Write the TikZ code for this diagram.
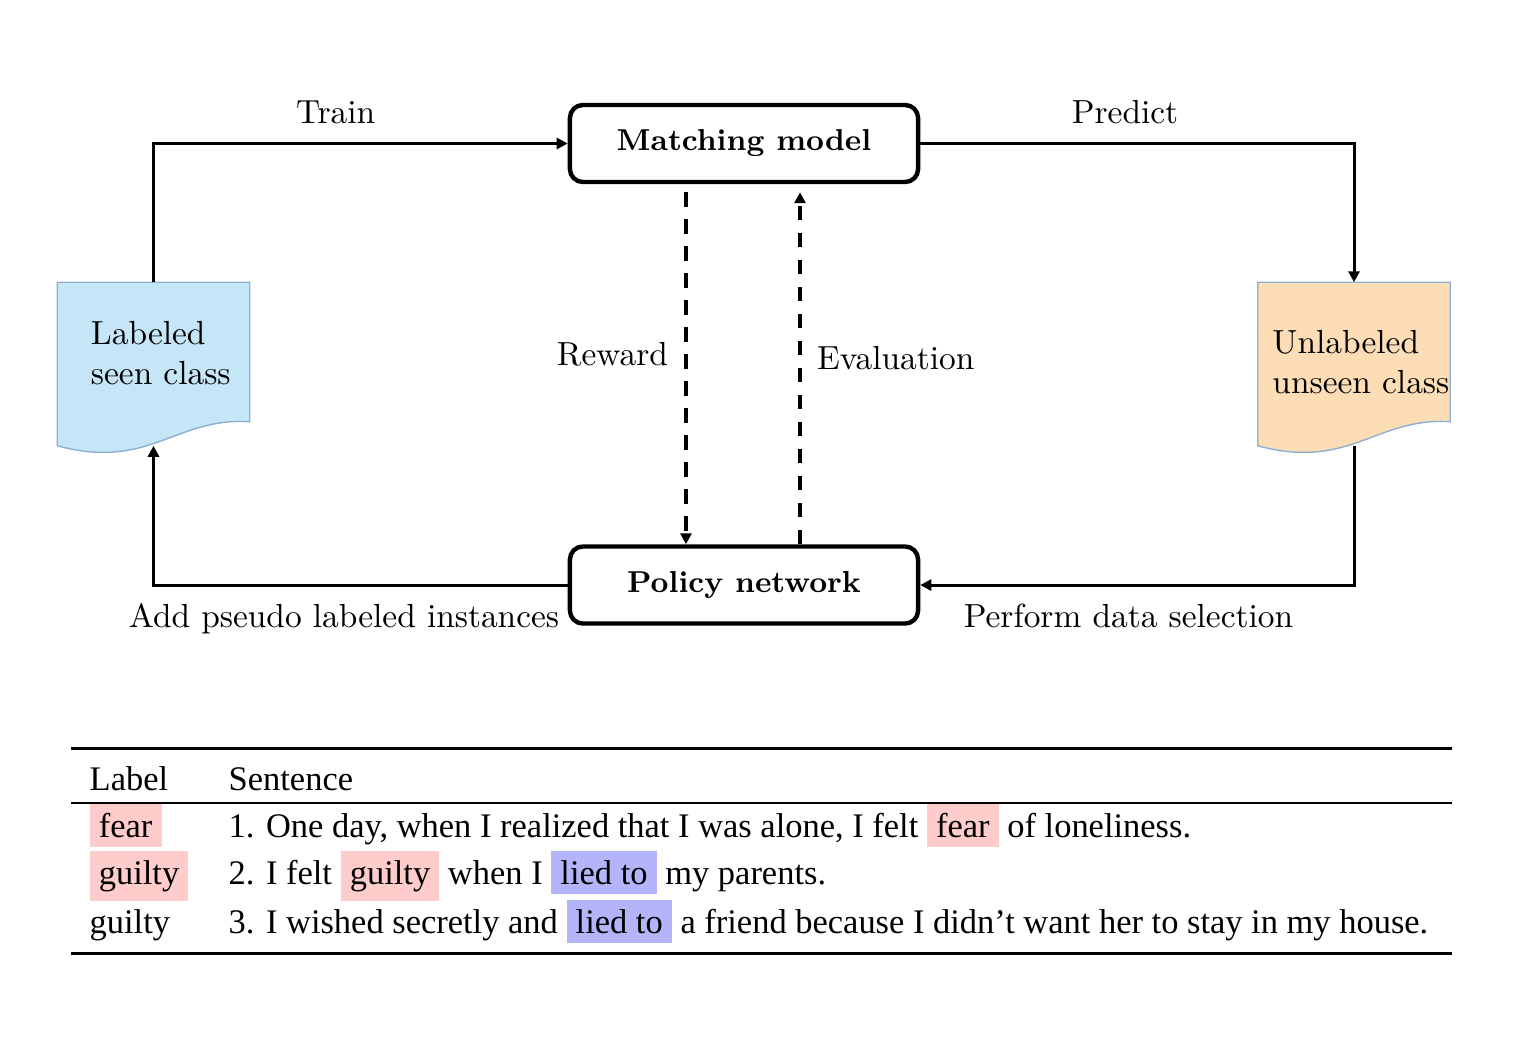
\documentclass[tikz,border=0pt]{standalone}
\usepackage{fontspec}
\newfontfamily\tabfont{Liberation Serif}
\usepackage{xcolor}
\usetikzlibrary{arrows.meta,positioning,calc}

\definecolor{seenblue}{HTML}{C5E6F6}
\definecolor{unseenpeach}{HTML}{FDDDB6}
\definecolor{docedge}{HTML}{8EAFCF}
\definecolor{hlpink}{HTML}{FFCCCC}
\definecolor{hlblue}{HTML}{B4B4FA}

\setlength{\fboxsep}{2.6pt}
\newcommand{\hlword}[2]{\colorbox{#1}{#2}}
\newcommand{\lblfont}{\fontsize{9.5}{11.3}\selectfont}

\tikzset{
  block/.style={draw, line width=1.25pt, rounded corners=0.13cm,
    minimum width=3.48cm, minimum height=0.77cm,
    font=\fontsize{8.6}{10}\selectfont\bfseries},
  docarea/.style={minimum width=1.91cm, minimum height=1.62cm, inner sep=0pt},
  doctext/.style={align=left, font=\lblfont, inner sep=0pt, anchor=west},
  flow/.style={line width=0.85pt, -{Triangle[length=1.1mm,width=1.1mm]}},
  dflow/.style={flow, line width=1pt, dash pattern=on 1.45mm off 1.25mm},
  lbl/.style={font=\lblfont},
  cell/.style={anchor=base west, inner sep=0pt, font=\tabfont\fontsize{9.8}{11.8}\selectfont}
}

\begin{document}
\begin{tikzpicture}[x=0.01cm, y=-0.01cm]
  \useasboundingbox (0,0) rectangle (1524,1038);

  %% ── Top: training loop ─────────────────────────────────────
  \node[block] (match)  at (744,143.5) {Matching model};
  \node[block] (policy) at (744,585)   {Policy network};

  %% document shapes (seen / unseen)
  \node[docarea] (seen)   at (153.5,364) {};
  \node[docarea] (unseen) at (1354,364)  {};
  \filldraw[fill=seenblue, draw=docedge, line width=0.4pt]
    (seen.north west) -- (seen.north east) -- ($(seen.south east)+(0,-24)$)
    .. controls +(-74,-5) and +(92,25) .. (seen.south west) -- cycle;
  \filldraw[fill=unseenpeach, draw=docedge, line width=0.4pt]
    (unseen.north west) -- (unseen.north east) -- ($(unseen.south east)+(0,-24)$)
    .. controls +(-74,-5) and +(92,25) .. (unseen.south west) -- cycle;
  \node[doctext] (seentxt)   at ($(seen.west)+(33,-11)$)  {Labeled\\seen class};
  \node[doctext] (unseentxt) at ($(unseen.west)+(14,-2)$) {Unlabeled\\unseen class};

  %% solid loop
  \draw[flow] (seen.north) |- (match.west)
    node[lbl, above=1.7pt, pos=0.72] (train) {Train};
  \draw[flow] (match.east) -| (unseen.north)
    node[lbl, above=1.7pt, pos=0.236] (predict) {Predict};
  \draw[flow] (unseen.south) |- (policy.east)
    node[lbl, below=1.5pt, pos=0.76] (select) {Perform data selection};
  \draw[flow] (policy.west) -| (seen.south)
    node[lbl, below=1.5pt, pos=0.27] (addpl) {Add pseudo labeled instances};

  %% dashed feedback
  \draw[dflow] ([xshift=-0.58cm,yshift=-0.08cm]match.south) -- ([xshift=-0.58cm]policy.north)
    node[lbl, left=1.3pt, pos=0.46] (reward) {Reward};
  \draw[dflow] ([xshift=0.56cm]policy.north) -- ([xshift=0.56cm,yshift=-0.08cm]match.south)
    node[lbl, right=1pt, pos=0.53] (evalu) {Evaluation};

  %% ── Bottom: example table ─────────────────────────────────
  \draw[line width=0.85pt] (71,748) -- (1452,748);
  \draw[line width=0.4pt]  (71,803) -- (1452,803);
  \draw[line width=0.85pt] (71,953) -- (1452,953);

  \node[cell] (hdlab)  at (89,790)  {Label};
  \node[cell] (hdsent) at (228,790) {Sentence};

  \node[cell] (lab1)  at (89,837)  {\hlword{hlpink}{fear}};
  \node[cell] (sent1) at (228,837) {1. One day, when I realized that I was alone, I felt \hlword{hlpink}{fear} of loneliness.};
  \node[cell] (lab2)  at (89,884)  {\hlword{hlpink}{guilty}};
  \node[cell] (sent2) at (228,884) {2. I felt \hlword{hlpink}{guilty} when I \hlword{hlblue}{lied to} my parents.};
  \node[cell] (lab3)  at (89,933)  {guilty};
  \node[cell] (sent3) at (228,933) {3. I wished secretly and \hlword{hlblue}{lied to} a friend because I didn’t want her to stay in my house.};
\end{tikzpicture}
\end{document}
